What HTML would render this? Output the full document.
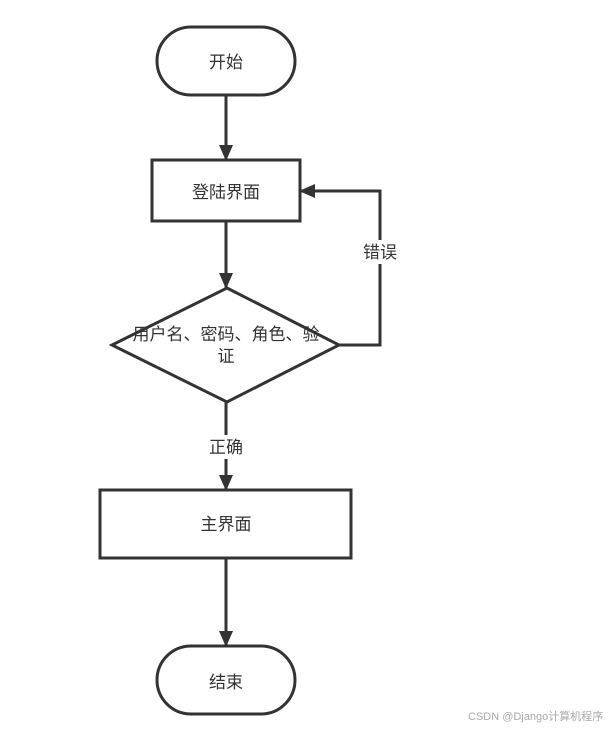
<!DOCTYPE html>
<html><head><meta charset="utf-8"><style>
body{margin:0;background:#fff;}
svg text{font-family:"Liberation Sans","Noto Sans CJK SC",sans-serif;font-size:17px;fill:#333;}
</style></head><body>
<svg width="610" height="727" viewBox="0 0 610 727" xmlns="http://www.w3.org/2000/svg">
<defs><marker id="a" markerWidth="10" markerHeight="10" refX="8" refY="5" orient="auto" markerUnits="userSpaceOnUse"><path d="M0,0 L10,5 L0,10 Z" fill="#333"/></marker>
<marker id="b" viewBox="0 0 16 16" markerWidth="16" markerHeight="16" refX="15" refY="8" orient="auto" markerUnits="userSpaceOnUse"><path d="M0,1 L16,8 L0,15 Z" fill="#333"/></marker></defs>
<g stroke="#333" stroke-width="3" fill="none">
<rect x="157" y="27" width="138" height="68" rx="34"/>
<rect x="152" y="160" width="148" height="61"/>
<polygon points="227,288 339,345 227,402 112,345"/>
<rect x="100" y="490" width="251" height="68"/>
<rect x="157" y="646" width="138" height="68" rx="34"/>
<line x1="226" y1="95" x2="226" y2="160" marker-end="url(#b)"/>
<line x1="226" y1="221" x2="226" y2="288" marker-end="url(#b)"/>
<polyline points="339,345 380,345 380,191 300,191" marker-end="url(#b)"/>
<line x1="226" y1="402" x2="226" y2="490" marker-end="url(#b)"/>
<line x1="226" y1="558" x2="226" y2="646" marker-end="url(#b)"/>
</g>
<rect x="360" y="240" width="40" height="24" fill="#fff"/>
<rect x="205" y="435" width="42" height="24" fill="#fff"/>
<g text-anchor="middle">
<text x="226" y="68">开始</text>
<text x="226" y="198">登陆界面</text>
<text x="226" y="340">用户名、密码、角色、验</text>
<text x="226" y="362">证</text>
<text x="380" y="258">错误</text>
<text x="226" y="453">正确</text>
<text x="226" y="530">主界面</text>
<text x="226" y="688">结束</text>
</g>
<text x="468" y="720" style="font-size:11px;fill:#aaa">CSDN @Django计算机程序</text>
</svg>
</body></html>
